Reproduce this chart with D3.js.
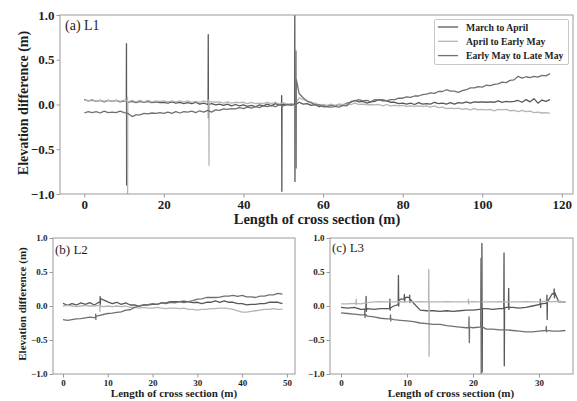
<!DOCTYPE html>
<html>
<head>
<meta charset="utf-8">
<script src="https://cdn.jsdelivr.net/npm/d3@7"></script>
<style>
  html, body { margin: 0; padding: 0; background: #fff; }
  svg { display: block; }
  text { font-family: "Liberation Serif", "Times New Roman", serif; }
</style>
</head>
<body>
<svg id="chart" width="577" height="401"></svg>
<script>
// ---- Series names (legend) ----
const seriesNames = ["March to April", "April to Early May", "Early May to Late May"];
const seriesColors = ["#585858", "#b5b5b5", "#707070"];

// ---- Profile L1: stations every 1 m, 0–117 m ----
const stationsL1 = d3.range(0, 118);
const l1MarApr = [
  0.055, 0.04, 0.05, 0.035, 0.045, 0.03, 0.045, 0.035, 0.045, 0.03, 0.04,
  0.025, 0.035, 0.02, 0.035, 0.025, 0.035, 0.02, 0.03, 0.02, 0.025,
  0.015, 0.03, 0.015, 0.025, 0.01, 0.02, 0.01, 0.025, 0.005, 0.015,
  0.0, 0.01, -0.005, 0.005, -0.01, 0.005, -0.015, 0.0, -0.015, -0.005,
  -0.02, -0.01, -0.025, -0.005, -0.015, 0.005, -0.015, 0.01, -0.005, 0.005,
  -0.005, 0.005, -0.005, 0.025, 0.005, 0.01, -0.01, 0.0, -0.025, -0.01,
  -0.02, -0.005, -0.015, 0.0, -0.01, 0.015, 0.025, 0.045, 0.03, 0.035,
  0.015, 0.03, 0.035, 0.055, 0.04, 0.04, 0.025, 0.025, 0.01, 0.015,
  0.005, 0.015, 0.0, 0.02, 0.005, 0.01, 0.005, 0.025, 0.01, 0.015,
  0.005, 0.02, 0.005, 0.02, 0.015, 0.03, 0.015, 0.03, 0.025, 0.03,
  0.025, 0.03, 0.025, 0.04, 0.025, 0.035, 0.03, 0.035, 0.045, 0.025,
  0.055, 0.03, 0.065, 0.015, 0.05, 0.035, 0.055
];
const l1AprMay = [
  0.05, 0.04, 0.055, 0.035, 0.05, 0.035, 0.05, 0.035, 0.05, 0.035, 0.05,
  0.03, 0.045, 0.03, 0.045, 0.03, 0.045, 0.03, 0.04, 0.035, 0.04,
  0.03, 0.04, 0.03, 0.04, 0.03, 0.04, 0.025, 0.035, 0.025, 0.04,
  0.025, 0.03, 0.025, 0.03, 0.015, 0.03, 0.015, 0.025, 0.02, 0.025,
  0.01, 0.025, 0.01, 0.015, 0.01, 0.025, 0.01, 0.025, 0.005, 0.02,
  0.005, 0.01, -0.005, 0.075, 0.055, 0.045, 0.015, 0.015, -0.005, 0.0,
  -0.01, 0.005, -0.01, 0.005, 0.0, 0.005, 0.0, 0.015, 0.0, 0.005,
  -0.005, 0.0, -0.005, 0.0, -0.015, 0.0, -0.015, -0.01, -0.015, -0.01,
  -0.02, -0.015, -0.02, -0.015, -0.02, -0.015, -0.03, -0.015, -0.035, -0.03,
  -0.045, -0.04, -0.045, -0.04, -0.055, -0.045, -0.06, -0.045, -0.06, -0.055,
  -0.06, -0.055, -0.07, -0.055, -0.06, -0.055, -0.07, -0.065, -0.08, -0.065,
  -0.08, -0.075, -0.09, -0.085, -0.095, -0.09, -0.1
];
const l1MayMay = [
  -0.095, -0.08, -0.09, -0.08, -0.095, -0.075, -0.09, -0.085, -0.09, -0.075, -0.09,
  -0.1, -0.135, -0.115, -0.115, -0.1, -0.105, -0.095, -0.1, -0.09, -0.1,
  -0.085, -0.1, -0.08, -0.095, -0.08, -0.085, -0.075, -0.09, -0.07, -0.085,
  -0.065, -0.085, -0.06, -0.065, -0.05, -0.055, -0.045, -0.05, -0.035, -0.045,
  -0.03, -0.04, -0.025, -0.035, -0.015, -0.025, -0.01, -0.025, -0.005, -0.015,
  0.0, -0.01, 0.005, 0.12, 0.075, 0.035, 0.025, -0.005, -0.005, -0.025,
  -0.025, -0.03, -0.02, -0.03, -0.01, -0.015, 0.035, 0.04, 0.055, 0.04,
  0.045, 0.03, 0.055, 0.05, 0.055, 0.04, 0.055, 0.055, 0.07, 0.07,
  0.085, 0.08, 0.095, 0.095, 0.11, 0.115, 0.13, 0.125, 0.145, 0.145,
  0.165, 0.15, 0.15, 0.135, 0.155, 0.165, 0.185, 0.185, 0.2, 0.195,
  0.215, 0.21, 0.225, 0.23, 0.25, 0.245, 0.27, 0.275, 0.315, 0.295,
  0.31, 0.3, 0.315, 0.305, 0.325, 0.32, 0.345
];
// Spikes: [station, before, high, low, after]
const l1SpikesMarApr = [[10.6, 0.04, 0.68, -0.9, 0.03], [31.15, 0.005, 0.78, -0.15, 0.0], [49.6, 0.0, 0.1, -0.97, 0.0], [52.9, 0.0, 1.0, -0.86, 0.01]];
const l1SpikesAprMay = [[10.85, 0.04, 0.08, -1.0, 0.035], [31.3, 0.03, 0.05, -0.68, 0.03]];
const l1SpikesMayMay = [[53.2, 0.0, 0.6, -0.71, 0.28]];

// ---- Profile L2: stations every 1 m, 0–49 m ----
const stationsL2 = d3.range(0, 50);
const l2MarApr = [
  0.04, 0.01, 0.035, 0.015, 0.045, 0.025, 0.05, 0.015, 0.055, 0.09,
  0.06, 0.035, 0.055, 0.025, 0.045, 0.015, 0.015, -0.005, 0.015, 0.015,
  0.025, 0.025, 0.045, 0.045, 0.065, 0.065, 0.065, 0.07, 0.06, 0.05,
  0.055, 0.035, 0.055, 0.055, 0.075, 0.055, 0.075, 0.055, 0.055, 0.035,
  0.035, 0.015, 0.025, 0.025, 0.035, 0.035, 0.055, 0.055, 0.055, 0.035
];
const l2AprMay = [
  0.0, 0.01, 0.0, -0.01, 0.0, 0.01, 0.0, 0.0, 0.01, -0.01,
  0.0, -0.01, 0.0, -0.01, 0.0, -0.02, -0.02, -0.03, -0.02, -0.03,
  -0.03, -0.02, -0.03, -0.04, -0.03, -0.03, -0.04, -0.03, -0.05, -0.05,
  -0.06, -0.05, -0.05, -0.04, -0.04, -0.03, -0.03, -0.04, -0.05, -0.07,
  -0.09, -0.09, -0.08, -0.07, -0.06, -0.05, -0.05, -0.04, -0.05, -0.05
];
const l2MayMay = [
  -0.2, -0.21, -0.2, -0.19, -0.185, -0.175, -0.165, -0.17, -0.14, -0.125,
  -0.11, -0.105, -0.095, -0.085, -0.06, -0.055, -0.02, 0.0, 0.015, 0.02,
  0.035, 0.025, 0.045, 0.035, 0.055, 0.045, 0.065, 0.05, 0.065, 0.08,
  0.1, 0.105, 0.125, 0.125, 0.125, 0.13, 0.145, 0.145, 0.155, 0.14,
  0.155, 0.135, 0.135, 0.125, 0.145, 0.145, 0.165, 0.165, 0.185, 0.175
];
const l2SpikesMarApr = [[8.3, 0.05, 0.14, 0.02, 0.11]];
const l2SpikesAprMay = [[8.2, 0.0, 0.03, -0.08, 0.0]];
const l2SpikesMayMay = [[7.3, -0.17, -0.12, -0.2, -0.15]];

// ---- Profile L3: stations every 1 m, 0–34 m ----
const stationsL3 = d3.range(0, 35);
const l3MarApr = [
  -0.02, -0.03, -0.02, -0.05, -0.04, -0.05, -0.04, -0.04, 0.0, 0.1,
  0.13, 0.04, -0.06, -0.07, -0.07, -0.08, -0.07, -0.08, -0.07, -0.06,
  -0.06, -0.05, -0.04, -0.05, -0.04, -0.02, -0.02, -0.03, -0.02, 0.0,
  0.02, 0.04, 0.18, 0.06, 0.06
];
const l3AprMay = [
  0.03, 0.03, 0.04, 0.03, 0.05, 0.06, 0.065, 0.06, 0.06, 0.065,
  0.06, 0.06, 0.065, 0.06, 0.06, 0.06, 0.065, 0.06, 0.06, 0.06,
  0.065, 0.06, 0.06, 0.06, 0.065, 0.06, 0.06, 0.06, 0.065, 0.06,
  0.06, 0.07, 0.06, 0.07, 0.06
];
const l3MayMay = [
  -0.1, -0.11, -0.12, -0.13, -0.15, -0.16, -0.18, -0.19, -0.2, -0.21,
  -0.22, -0.23, -0.25, -0.26, -0.27, -0.27, -0.29, -0.3, -0.31, -0.32,
  -0.32, -0.31, -0.34, -0.34, -0.35, -0.35, -0.36, -0.37, -0.38, -0.38,
  -0.37, -0.36, -0.37, -0.37, -0.36
];
const l3SpikesMarApr = [
  [3.8, -0.05, 0.14, -0.08, -0.05], [7.4, -0.04, 0.1, -0.06, -0.03], [8.7, 0.02, 0.45, 0.0, 0.08],
  [9.6, 0.1, 0.17, 0.06, 0.12], [10.4, 0.12, 0.16, 0.05, 0.1], [21.35, -0.05, 0.92, -0.97, -0.04],
  [24.7, -0.04, 0.78, -0.88, -0.03], [25.4, -0.02, 0.26, -0.05, -0.02], [30.2, 0.02, 0.1, -0.02, 0.03],
  [31.2, 0.04, 0.16, -0.2, 0.06], [32.3, 0.18, 0.25, 0.12, 0.2]
];
const l3SpikesAprMay = [[2.3, 0.03, 0.1, 0.02, 0.04], [13.3, 0.06, 0.54, -0.74, 0.06], [19.3, 0.06, 0.1, 0.03, 0.06]];
const l3SpikesMayMay = [[3.6, -0.13, -0.04, -0.17, -0.12], [7.5, -0.19, -0.13, -0.22, -0.19], [19.4, -0.32, -0.16, -0.54, -0.31], [21.2, -0.31, 0.7, -1.0, -0.3], [31.1, -0.36, -0.3, -0.38, -0.36]];

// ---- Axis ticks ----
const yTicks = [-1.0, -0.5, 0.0, 0.5, 1.0];
const xTicksL1 = [0, 20, 40, 60, 80, 100, 120];
const xTicksL2 = [0, 10, 20, 30, 40, 50];
const xTicksL3 = [0, 10, 20, 30];

// Merge regular stations with spike points into one sorted profile
function profile(stations, values, spikes) {
  const pts = stations.map((s, i) => [s, values[i]]);
  spikes.forEach(([s, before, hi, lo, after]) => {
    pts.push([s - 0.04, before], [s, hi], [s + 0.04, lo], [s + 0.08, after]);
  });
  return pts.sort((a, b) => a[0] - b[0]);
}

const svg = d3.select("#chart");
const frameColor = "#9a9a9a";
const textColor = "#1e1e1e";

function panel(cfg) {
  const { id, left, right, top, bottom, xDomain, xTicks, tickSize, label, labelSize, labelDx, labelDy, series } = cfg;
  const x = d3.scaleLinear().domain(xDomain).range([left, right]);
  const y = d3.scaleLinear().domain([-1, 1]).range([bottom, top]);
  const g = svg.append("g");

  g.append("clipPath").attr("id", "clip-" + id)
    .append("rect").attr("x", left).attr("y", top).attr("width", right - left).attr("height", bottom - top);

  const line = d3.line().x(d => x(d[0])).y(d => y(d[1]));
  const lines = g.append("g").attr("clip-path", `url(#clip-${id})`);
  series.forEach((pts, i) => {
    lines.append("path").datum(pts)
      .attr("fill", "none")
      .attr("stroke", seriesColors[i])
      .attr("stroke-width", 1.3)
      .attr("stroke-linejoin", "round")
      .attr("d", line);
  });

  // frame
  g.append("rect").attr("x", left).attr("y", top).attr("width", right - left).attr("height", bottom - top)
    .attr("fill", "none").attr("stroke", frameColor).attr("stroke-width", 1);

  const fmt = d => (d < 0 ? "\u2212" : "") + Math.abs(d).toFixed(1);
  const xAxis = g.append("g").attr("transform", `translate(0,${bottom})`)
    .call(d3.axisBottom(x).tickValues(xTicks).tickSize(3.5).tickPadding(2).tickFormat(d3.format("d")));
  const yAxis = g.append("g").attr("transform", `translate(${left},0)`)
    .call(d3.axisLeft(y).tickValues(yTicks).tickSize(3.5).tickPadding(2).tickFormat(fmt));
  [xAxis, yAxis].forEach(a => {
    a.select(".domain").remove();
    a.selectAll("line").attr("stroke", frameColor);
    a.selectAll("text").attr("fill", textColor).attr("font-weight", "bold")
      .style("font-family", '"Liberation Serif", serif').attr("font-size", tickSize);
  });

  g.append("text").attr("x", left + labelDx).attr("y", top + labelDy)
    .attr("font-size", labelSize).attr("fill", textColor).text(label);
  return { x, y };
}

// (a) L1
panel({
  id: "a", left: 60, right: 573, top: 15, bottom: 194,
  xDomain: [-6.1, 122.8], xTicks: xTicksL1, tickSize: 13,
  label: "(a) L1", labelSize: 14, labelDx: 5, labelDy: 15,
  series: [
    profile(stationsL1, l1MarApr, l1SpikesMarApr),
    profile(stationsL1, l1AprMay, l1SpikesAprMay),
    profile(stationsL1, l1MayMay, l1SpikesMayMay)
  ]
});

// (b) L2
panel({
  id: "b", left: 53, right: 295, top: 238, bottom: 374,
  xDomain: [-2.23, 51.8], xTicks: xTicksL2, tickSize: 9,
  label: "(b) L2", labelSize: 13, labelDx: 2, labelDy: 16,
  series: [
    profile(stationsL2, l2MarApr, l2SpikesMarApr),
    profile(stationsL2, l2AprMay, l2SpikesAprMay),
    profile(stationsL2, l2MayMay, l2SpikesMayMay)
  ]
});

// (c) L3
panel({
  id: "c", left: 330, right: 573, top: 238, bottom: 374,
  xDomain: [-1.67, 35.15], xTicks: xTicksL3, tickSize: 9,
  label: "(c) L3", labelSize: 13, labelDx: 2, labelDy: 14,
  series: [
    profile(stationsL3, l3MarApr, l3SpikesMarApr),
    profile(stationsL3, l3AprMay, l3SpikesAprMay),
    profile(stationsL3, l3MayMay, l3SpikesMayMay)
  ]
});

// Axis titles
const titleStyle = sel => sel.attr("font-weight", "bold").attr("fill", textColor).attr("text-anchor", "middle");
svg.append("text").call(titleStyle).attr("font-size", 14.5).attr("x", 317).attr("y", 224)
  .text("Length of cross section (m)");
svg.append("text").call(titleStyle).attr("font-size", 14)
  .attr("transform", "translate(28,103) rotate(-90)").text("Elevation difference (m)");
svg.append("text").call(titleStyle).attr("font-size", 11).attr("x", 174).attr("y", 397)
  .text("Length of cross section (m)");
svg.append("text").call(titleStyle).attr("font-size", 11)
  .attr("transform", "translate(25.5,304) rotate(-90)").text("Elevation difference (m)");
svg.append("text").call(titleStyle).attr("font-size", 11).attr("x", 451).attr("y", 397)
  .text("Length of cross section (m)");

// Legend
const legend = svg.append("g");
legend.append("rect").attr("x", 434.5).attr("y", 19.5).attr("width", 134).attr("height", 45)
  .attr("fill", "#fff").attr("stroke", "#c8c8c8").attr("stroke-width", 1).attr("rx", 1.5);
seriesNames.forEach((name, i) => {
  const cy = 27 + i * 14.3;
  legend.append("line").attr("x1", 438).attr("x2", 458).attr("y1", cy).attr("y2", cy)
    .attr("stroke", seriesColors[i]).attr("stroke-width", 1.3);
  legend.append("text").attr("x", 466).attr("y", cy + 3.6).attr("font-size", 9.7)
    .attr("font-weight", "bold").attr("fill", textColor).text(name);
});
</script>
</body>
</html>
